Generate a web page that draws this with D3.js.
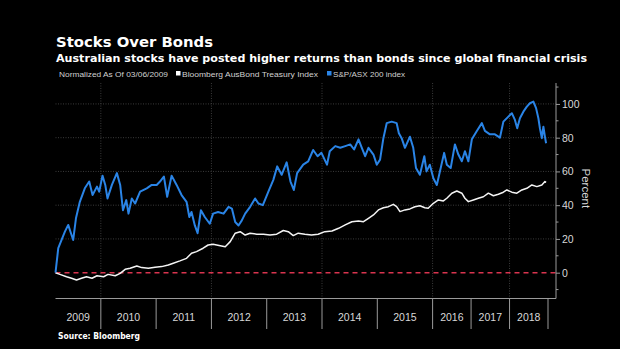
<!DOCTYPE html>
<html>
<head>
<meta charset="utf-8">
<script src="https://cdn.jsdelivr.net/npm/d3@7"></script>
<style>
  body { margin: 0; background: #000; }
  svg { display: block; }
</style>
</head>
<body>
<svg id="chart" width="620" height="349"></svg>
<script>
// Calendar years labelled under the axis and the year boundaries between them
const yearLabels = [2009, 2010, 2011, 2012, 2013, 2014, 2015, 2016, 2017, 2018];
const yearBounds = [2010, 2011, 2012, 2013, 2014, 2015, 2016, 2017, 2018, 2019];
const gridYears = [2010, 2012, 2014, 2016, 2018];
const yTicks = [0, 20, 40, 60, 80, 100];
const yMinorTicks = [-10, 10, 30, 50, 70, 90, 110];
const startYear = 2009.18; // 03/06/2009

// S&P/ASX 200 index, % change since 03/06/2009 (time as decimal year)
const stockDates = [2009.18, 2009.23, 2009.29, 2009.35, 2009.41, 2009.47, 2009.50, 2009.55, 2009.62, 2009.71,
  2009.79, 2009.85, 2009.93, 2009.97, 2010.03, 2010.08, 2010.12, 2010.20, 2010.29, 2010.35,
  2010.40, 2010.46, 2010.50, 2010.56, 2010.62, 2010.71, 2010.83, 2010.92, 2011.01, 2011.07,
  2011.14, 2011.20, 2011.28, 2011.37, 2011.46, 2011.55, 2011.60, 2011.64, 2011.70, 2011.75,
  2011.81, 2011.88, 2011.97, 2012.03, 2012.12, 2012.22, 2012.31, 2012.37, 2012.43, 2012.49,
  2012.55, 2012.61, 2012.70, 2012.79, 2012.85, 2012.93, 2013.03, 2013.12, 2013.19, 2013.27,
  2013.36, 2013.43, 2013.49, 2013.55, 2013.66, 2013.75, 2013.84, 2013.92, 2013.99, 2014.09,
  2014.14, 2014.24, 2014.33, 2014.42, 2014.51, 2014.58, 2014.66, 2014.72, 2014.78, 2014.84,
  2014.93, 2014.99, 2015.05, 2015.11, 2015.17, 2015.26, 2015.35, 2015.39, 2015.44, 2015.50,
  2015.59, 2015.65, 2015.70, 2015.77, 2015.85, 2015.89, 2015.95, 2016.02, 2016.11, 2016.19,
  2016.30, 2016.37, 2016.47, 2016.58, 2016.67, 2016.76, 2016.84, 2016.93, 2017.02, 2017.15,
  2017.28, 2017.36, 2017.49, 2017.62, 2017.75, 2017.84, 2017.97, 2018.06, 2018.14, 2018.20,
  2018.27, 2018.36, 2018.45, 2018.53, 2018.62, 2018.69, 2018.75, 2018.79, 2018.84, 2018.88,
  2018.92, 2018.95];
const stockValues = [0, 14.5, 19.4, 24.3, 28.3, 22.3, 19.4, 32.2, 42, 50,
  54, 46, 51, 48, 57.5, 52, 44, 52, 59, 52,
  37, 43, 35, 44, 41, 48, 50, 52, 52, 54,
  57, 45, 57.5, 52, 46, 42, 33, 36, 28, 23.4,
  37, 33, 29, 35, 36, 35, 39, 38, 30, 28,
  31, 35, 39, 44, 41, 40, 48, 55, 63, 58,
  65.4, 54, 49, 59, 64, 66, 72.7, 69, 71, 64,
  72, 75, 74, 75, 76, 73, 79, 74, 69, 74,
  70, 64, 67, 79.7, 88.6, 89.5, 88.6, 82.6, 79.7, 74,
  80.6, 74, 62, 58, 69, 60, 64, 56, 52, 60,
  71, 64, 62, 76, 70, 66, 72, 66, 79, 84,
  88.6, 84, 82, 82, 80, 89.5, 92.5, 94.5, 90.5, 85.6,
  91.5, 95.4, 98.4, 100.4, 101.4, 97.5, 91.5, 85.6, 79.7, 86.5,
  80.6, 76.7];

// Bloomberg AusBond Treasury Index, % change since 03/06/2009
const bondDates = [2009.18, 2009.26, 2009.38, 2009.47, 2009.56, 2009.65, 2009.74, 2009.84, 2009.93, 2010.05,
  2010.13, 2010.26, 2010.35, 2010.44, 2010.53, 2010.65, 2010.74, 2010.86, 2010.98, 2011.10,
  2011.22, 2011.31, 2011.43, 2011.55, 2011.64, 2011.73, 2011.85, 2011.94, 2012.03, 2012.16,
  2012.25, 2012.34, 2012.43, 2012.52, 2012.61, 2012.70, 2012.82, 2012.94, 2013.06, 2013.18,
  2013.30, 2013.39, 2013.48, 2013.57, 2013.69, 2013.81, 2013.93, 2014.05, 2014.18, 2014.30,
  2014.42, 2014.54, 2014.66, 2014.75, 2014.84, 2014.93, 2015.02, 2015.11, 2015.20, 2015.29,
  2015.35, 2015.41, 2015.50, 2015.59, 2015.68, 2015.77, 2015.86, 2015.92, 2016.02, 2016.15,
  2016.28, 2016.37, 2016.50, 2016.63, 2016.76, 2016.84, 2016.93, 2017.06, 2017.19, 2017.32,
  2017.45, 2017.58, 2017.71, 2017.84, 2017.93, 2018.06, 2018.19, 2018.32, 2018.45, 2018.58,
  2018.71, 2018.84, 2018.92, 2018.95];
const bondValues = [0, -1, -2.4, -3.3, -4.3, -3.3, -2.4, -3.3, -1.8, -2.4,
  -1, -1.8, -0.4, 2, 2.6, 4, 3, 2.6, 3.2, 3.6,
  4.6, 5.6, 7, 8.5, 11.5, 12.5, 14.5, 16.4, 16.8, 16,
  15.4, 18.4, 23.4, 24.3, 22.3, 23.4, 22.8, 22.8, 22.3, 22.8,
  25, 24.3, 22, 23.4, 22.8, 22.3, 22.8, 24.3, 24.7, 26.3,
  28.3, 30.2, 30.6, 30.2, 32.2, 34.2, 37.2, 38.5, 39.1, 40.5,
  39.1, 36.2, 37.2, 37.8, 39.1, 39.7, 38.5, 38.2, 41.1, 43.1,
  42.5, 44.1, 47.1, 48.4, 47.1, 44.1, 42.1, 43.1, 44.1, 45,
  47.1, 45.6, 46.5, 47.7, 49, 47.7, 47.1, 49, 50, 52,
  51, 52, 54, 53.5];

const stockSeries = stockDates.map((d, i) => ({ t: d, v: stockValues[i] }));
const bondSeries = bondDates.map((d, i) => ({ t: d, v: bondValues[i] }));

const W = 620, H = 349;
const plot = { left: 55.5, right: 556, top: 83, bottom: 298.5 };

const svg = d3.select("#chart");
svg.append("rect").attr("width", W).attr("height", H).attr("fill", "#000");

// x: the axis runs faster through 2016-2018
const x = d3.scaleLinear()
  .domain([startYear, 2016, 2019])
  .range([plot.left, 432.6, 548]);
const y = d3.scaleLinear()
  .domain([-15.3, 112.4])
  .range([plot.bottom, plot.top]);

const fit = (sel, w) => sel.attr("textLength", w).attr("lengthAdjust", "spacingAndGlyphs");
const FONT = "'DejaVu Sans', Verdana, sans-serif";
const NARROW = "'Liberation Sans', Arial, sans-serif";

// Header
svg.append("text").attr("x", 56).attr("y", 47)
  .attr("fill", "#fff").attr("font-family", FONT).attr("font-weight", "bold")
  .attr("font-size", 14.5).text("Stocks Over Bonds").call(fit, 157);
svg.append("text").attr("x", 56).attr("y", 62)
  .attr("fill", "#fff").attr("font-family", FONT).attr("font-weight", "bold")
  .attr("font-size", 10.5)
  .text("Australian stocks have posted higher returns than bonds since global financial crisis")
  .call(fit, 531);

// Legend row
const legend = svg.append("g").attr("font-family", NARROW).attr("font-size", 8).attr("fill", "#d0d0d0");
legend.append("text").attr("x", 59).attr("y", 76.5).text("Normalized As Of 03/06/2009").call(fit, 109);
legend.append("rect").attr("x", 176).attr("y", 71).attr("width", 4.5).attr("height", 4.5).attr("fill", "#fff");
legend.append("text").attr("x", 182).attr("y", 76.5).text("Bloomberg AusBond Treasury Index").call(fit, 136);
legend.append("rect").attr("x", 327).attr("y", 71).attr("width", 4.5).attr("height", 4.5).attr("fill", "#2a84e6");
legend.append("text").attr("x", 333).attr("y", 76.5).text("S&P/ASX 200 index").call(fit, 72);

// Gridlines
const grid = svg.append("g").attr("stroke", "#4a4a4a").attr("stroke-width", 0.8).attr("stroke-dasharray", "1,1.5");
grid.selectAll("line.h").data(yTicks.filter(d => d !== 0)).join("line")
  .attr("x1", plot.left).attr("x2", plot.right)
  .attr("y1", d => y(d)).attr("y2", d => y(d));
grid.selectAll("line.v").data(gridYears).join("line")
  .attr("x1", d => x(d)).attr("x2", d => x(d))
  .attr("y1", plot.top).attr("y2", plot.bottom);

// Zero reference
svg.append("line")
  .attr("x1", plot.left).attr("x2", plot.right)
  .attr("y1", y(0)).attr("y2", y(0))
  .attr("stroke", "#d9344f").attr("stroke-width", 1.4).attr("stroke-dasharray", "5,4");

// Series
const line = d3.line().x(d => x(d.t)).y(d => y(d.v));
svg.append("path").datum(bondSeries).attr("d", line)
  .attr("fill", "none").attr("stroke", "#f4f4f4").attr("stroke-width", 1.5).attr("stroke-linejoin", "round");
svg.append("path").datum(stockSeries).attr("d", line)
  .attr("fill", "none").attr("stroke", "#2a84e6").attr("stroke-width", 2).attr("stroke-linejoin", "round");

// Right value axis
const yAxis = svg.append("g").attr("transform", `translate(${plot.right},0)`);
yAxis.call(d3.axisRight(y).tickValues(yTicks).tickSize(4).tickPadding(2))
  .call(g => g.select(".domain").attr("stroke", "#9a9a9a").attr("d", `M0,${plot.top}V${plot.bottom}`))
  .call(g => g.selectAll(".tick line").attr("stroke", "#9a9a9a"))
  .call(g => g.selectAll(".tick text").attr("fill", "#d8d8d8")
    .attr("font-family", NARROW).attr("font-size", 10.5));
yAxis.selectAll("line.minor").data(yMinorTicks).join("line")
  .attr("x1", 0).attr("x2", 2.5)
  .attr("y1", d => y(d)).attr("y2", d => y(d))
  .attr("stroke", "#9a9a9a");
svg.append("text")
  .attr("transform", `translate(582,${(y(60) + y(40)) / 2}) rotate(90)`)
  .attr("text-anchor", "middle")
  .attr("fill", "#d8d8d8").attr("font-family", NARROW).attr("font-size", 11.5)
  .text("Percent");

// Bottom time axis: baseline, year separators and centred year labels
const xAxis = svg.append("g").attr("stroke", "#9a9a9a");
xAxis.append("line").attr("x1", plot.left).attr("x2", plot.right)
  .attr("y1", plot.bottom).attr("y2", plot.bottom);
xAxis.selectAll("line.sep").data(yearBounds).join("line")
  .attr("x1", d => x(d)).attr("x2", d => x(d))
  .attr("y1", plot.bottom).attr("y2", 329);
svg.append("g").selectAll("text").data(yearLabels).join("text")
  .attr("x", d => (x(Math.max(d, startYear)) + x(d + 1)) / 2)
  .attr("y", 321)
  .attr("text-anchor", "middle")
  .attr("fill", "#d8d8d8").attr("font-family", NARROW).attr("font-size", 10.5)
  .text(d => d);

// Source
svg.append("text").attr("x", 58).attr("y", 338.5)
  .attr("fill", "#fff").attr("font-family", FONT).attr("font-weight", "bold")
  .attr("font-size", 8).text("Source: Bloomberg").call(fit, 82);
</script>
</body>
</html>
